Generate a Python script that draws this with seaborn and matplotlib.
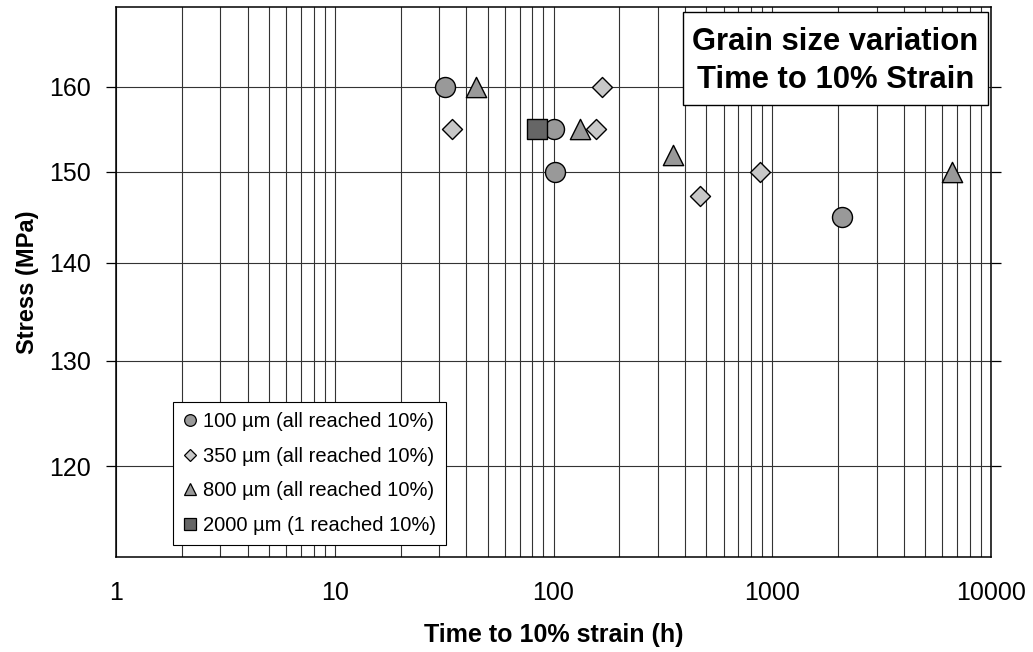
import numpy as np
import matplotlib
matplotlib.use("Agg")
import matplotlib.pyplot as plt
from matplotlib.lines import Line2D
from matplotlib.patches import Rectangle
from matplotlib.ticker import FixedLocator, NullLocator, FixedFormatter, LogLocator
import seaborn as sns

# Time to 10% strain (h) and applied stress (MPa) for each grain size
t_100 = [32, 100, 102, 2080]
s_100 = [160, 155, 150, 145]

t_350 = [34.4, 166, 156, 466, 876]
s_350 = [155, 160, 155, 147.3, 150]

t_800 = [44.3, 132, 352, 6600]
s_800 = [160, 155, 152, 150]

t_2000 = [84]
s_2000 = [155]

series_labels = [
    "100 µm (all reached 10%)",
    "350 µm (all reached 10%)",
    "800 µm (all reached 10%)",
    "2000 µm (1 reached 10%)",
]

x_ticks = [1, 10, 100, 1000, 10000]
x_tick_labels = ["1", "10", "100", "1000", "10000"]
y_ticks = [120, 130, 140, 150, 160]
y_tick_labels = ["120", "130", "140", "150", "160"]

sns.set_style("white")
plt.rcParams["font.family"] = ["Liberation Sans", "DejaVu Sans"]
plt.rcParams.update({
    "text.color": "black",
    "axes.labelcolor": "black",
    "xtick.color": "black",
    "ytick.color": "black",
})

W, H = 1033, 652
fig = plt.figure(figsize=(W / 100, H / 100), dpi=100)
ax = fig.add_axes([116 / W, 1 - 557 / H, (991 - 116) / W, (557 - 7) / H])

ax.set_xscale("log")
ax.set_yscale("log")

styles = [
    (t_100, s_100, "o", 14.4, "#999999"),
    (t_350, s_350, "D", 10.2, "#c8c8c8"),
    (t_800, s_800, "^", 14.6, "#999999"),
    (t_2000, s_2000, "s", 14.4, "#666666"),
]
for i, (xs, ys, mk, ms, fc) in enumerate(styles):
    sns.scatterplot(x=xs, y=ys, marker=mk, s=ms ** 2, color=fc,
                    edgecolor="black", linewidth=1.0, ax=ax,
                    zorder=3 + i, legend=False)

ax.set_xlim(1, 10000)
ax.set_ylim(112, 170)

ax.xaxis.set_major_locator(FixedLocator(x_ticks))
ax.xaxis.set_major_formatter(FixedFormatter(x_tick_labels))
ax.xaxis.set_minor_locator(LogLocator(base=10, subs=np.arange(2, 10)))
ax.yaxis.set_major_locator(FixedLocator(y_ticks))
ax.yaxis.set_major_formatter(FixedFormatter(y_tick_labels))
ax.yaxis.set_minor_locator(NullLocator())

grid_kw = dict(color="#333333", linewidth=0.8, zorder=1)
ax.grid(True, which="major", axis="both", **grid_kw)
ax.grid(True, which="minor", axis="x", **grid_kw)
ax.set_axisbelow(True)

for sp in ax.spines.values():
    sp.set_color("black")
    sp.set_linewidth(1.1)

ax.tick_params(axis="x", which="major", direction="out", length=6.5, width=0.9,
               color="black", labelcolor="black", labelsize=18, pad=11)
ax.tick_params(axis="x", which="minor", length=0)
ax.tick_params(axis="y", which="major", direction="out", length=7, width=0.9,
               color="black", labelcolor="black", labelsize=18, pad=11,
               left=True, right=True)

ax.set_xlabel("Time to 10% strain (h)", fontsize=18, fontweight="bold",
              labelpad=13, color="black")
ax.set_ylabel("Stress (MPa)", fontsize=17, fontweight="bold",
              labelpad=7, color="black")

# Legend
handles = [
    Line2D([], [], linestyle="none", marker="o", markersize=8.4,
           markerfacecolor="#999999", markeredgecolor="black", markeredgewidth=0.9),
    Line2D([], [], linestyle="none", marker="D", markersize=6.0,
           markerfacecolor="#c8c8c8", markeredgecolor="black", markeredgewidth=0.9),
    Line2D([], [], linestyle="none", marker="^", markersize=8.6,
           markerfacecolor="#999999", markeredgecolor="black", markeredgewidth=0.9),
    Line2D([], [], linestyle="none", marker="s", markersize=9.2,
           markerfacecolor="#666666", markeredgecolor="black", markeredgewidth=0.9),
]
leg = ax.legend(handles, series_labels, loc="upper left",
                bbox_to_anchor=(173 / W, 1 - 402 / H), bbox_transform=fig.transFigure,
                fontsize=14.5, frameon=True, fancybox=False, framealpha=1,
                edgecolor="black", handlelength=0.7, handletextpad=0.3,
                labelspacing=0.78, borderpad=0.5, borderaxespad=0)
leg.get_frame().set_linewidth(0.8)
leg.set_zorder(20)
for txt in leg.get_texts():
    txt.set_color("black")

# Title box
box = Rectangle((683 / W, 1 - 105 / H), 305 / W, 93 / H, transform=fig.transFigure,
                facecolor="white", edgecolor="black", linewidth=1.0,
                zorder=15, clip_on=False)
ax.add_patch(box)
ax.text(835.5 / W, 1 - 42 / H, "Grain size variation", transform=fig.transFigure,
        ha="center", va="center", fontsize=22.3, fontweight="bold",
        color="black", zorder=16)
ax.text(835.5 / W, 1 - 80 / H, "Time to 10% Strain", transform=fig.transFigure,
        ha="center", va="center", fontsize=22.3, fontweight="bold",
        color="black", zorder=16)

fig.savefig("out.png", dpi=100, facecolor="white")
